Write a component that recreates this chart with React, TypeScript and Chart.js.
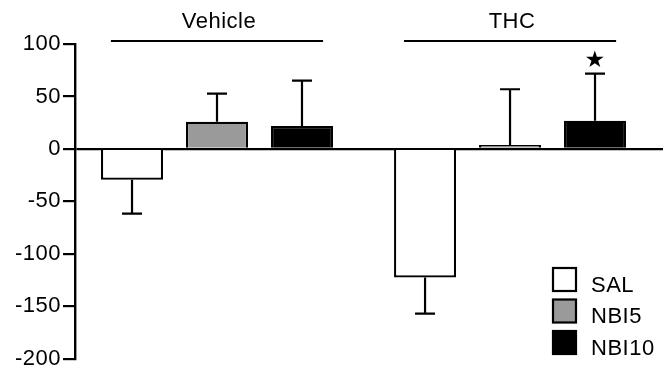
import React, { useEffect, useRef } from "react";
import { Chart, registerables } from "chart.js";

Chart.register(...registerables);

// ---- data ----
const groups = ["Vehicle", "THC"];
const groupPos = [1, 2];
const seriesLabels = ["SAL", "NBI5", "NBI10"];
const salValues = [-29.4, -122.5];
const salErrors = [32.2, 34.5];
const nbi5Values = [25.9, 3.8];
const nbi5Errors = [26.9, 53.1];
const nbi10Values = [21.8, 26.8];
const nbi10Errors = [43.3, 45.0];
const nbi10Marks = ["", "★"];
const yTicks = [-200, -150, -100, -50, 0, 50, 100];

const FONT = '"Liberation Sans", Arial, Helvetica, sans-serif';
const SPACING = "0.5px";

const seriesValues = [salValues, nbi5Values, nbi10Values];
const seriesErrors = [salErrors, nbi5Errors, nbi10Errors];
const seriesMarks = [["", ""], ["", ""], nbi10Marks];
const seriesColors = ["#ffffff", "#9a9a9a", "#000000"];

const spacingPlugin = {
  id: "spacing",
  beforeUpdate(chart: any) {
    chart.ctx.letterSpacing = SPACING;
  },
  beforeDraw(chart: any) {
    chart.ctx.letterSpacing = SPACING;
  },
};

const errorBarPlugin = {
  id: "errorBars",
  afterDatasetsDraw(chart: any) {
    const ctx = chart.ctx;
    const y = chart.scales.y;
    ctx.save();
    ctx.strokeStyle = "#000";
    ctx.fillStyle = "#000";
    ctx.lineWidth = 2.2;
    chart.data.datasets.forEach((ds: any, i: number) => {
      const meta = chart.getDatasetMeta(i);
      meta.data.forEach((el: any, j: number) => {
        const v = seriesValues[i][j];
        const e = seriesErrors[i][j];
        const end = v + (v >= 0 ? e : -e);
        const yEnd = y.getPixelForValue(end);
        ctx.beginPath();
        ctx.moveTo(el.x, el.y);
        ctx.lineTo(el.x, yEnd);
        ctx.moveTo(el.x - 10, yEnd);
        ctx.lineTo(el.x + 10, yEnd);
        ctx.stroke();
        const mark = seriesMarks[i][j];
        if (mark) {
          ctx.font = '23px "DejaVu Sans", sans-serif';
          ctx.textAlign = "center";
          ctx.textBaseline = "middle";
          ctx.fillText(mark, el.x, yEnd - 13);
        }
      });
    });
    ctx.restore();
  },
};

const decorPlugin = {
  id: "decor",
  afterDraw(chart: any) {
    const ctx = chart.ctx;
    const x = chart.scales.x;
    ctx.save();
    ctx.letterSpacing = SPACING;
    // group labels and lines
    ctx.fillStyle = "#000";
    ctx.strokeStyle = "#000";
    ctx.lineWidth = 2.2;
    ctx.font = "22px " + FONT;
    ctx.textAlign = "center";
    ctx.textBaseline = "alphabetic";
    groups.forEach((g, i) => {
      const cx = x.getPixelForValue(groupPos[i]);
      const l = x.getPixelForValue(groupPos[i] - 0.362);
      const r = x.getPixelForValue(groupPos[i] + 0.362);
      ctx.beginPath();
      ctx.moveTo(l, 41);
      ctx.lineTo(r, 41);
      ctx.stroke();
      ctx.fillText(g, cx + 2, 27.5);
    });
    // legend
    const boxL = 553;
    const top0 = 268;
    const pitch = 31.5;
    ctx.textAlign = "left";
    seriesLabels.forEach((lab, i) => {
      const t = top0 + i * pitch;
      ctx.fillStyle = seriesColors[i];
      ctx.fillRect(boxL, t, 23, 23);
      ctx.lineWidth = 2.2;
      ctx.strokeStyle = "#000";
      ctx.strokeRect(boxL, t, 23, 23);
      ctx.fillStyle = "#000";
      ctx.fillText(lab, 591, t + 23.5);
    });
    ctx.restore();
  },
};

export default function App() {
  const ref = useRef<HTMLCanvasElement>(null);
  useEffect(() => {
    if (!ref.current) return;
    const chart = new Chart(ref.current, {
      type: "bar",
      data: {
        datasets: seriesLabels.map((lab, i) => ({
          label: lab,
          data: groupPos.map((p, j) => ({ x: p, y: seriesValues[i][j] })),
          backgroundColor: seriesColors[i],
          borderColor: "#000",
          borderWidth: 2.2,
          borderSkipped: "start",
          categoryPercentage: 0.87,
          barPercentage: 0.73,
        })),
      },
      options: {
        animation: false,
        responsive: false,
        layout: { padding: { top: 44, bottom: 13, left: 0, right: 0 } },
        plugins: {
          legend: { display: false },
          tooltip: { enabled: false },
        },
        scales: {
          x: {
            type: "linear",
            display: false,
            min: 0.5154,
            max: 2.522,
            offset: false,
            afterBuildTicks: (scale: any) => {
              scale.ticks = groupPos.map((v) => ({ value: v }));
            },
          },
          y: {
            min: -200,
            max: 100,
            afterFit: (scale: any) => {
              scale.width = 75;
            },
            afterBuildTicks: (scale: any) => {
              scale.ticks = yTicks.map((v) => ({ value: v }));
            },
            border: { display: true, color: "#000", width: 2.4 },
            grid: {
              color: (c: any) =>
                c.tick && c.tick.value === 0 ? "#000" : "rgba(0,0,0,0)",
              lineWidth: 2.2,
              tickColor: "#000",
              tickWidth: 2.2,
              tickLength: 12,
              drawTicks: true,
            },
            ticks: {
              color: "#000",
              padding: 2,
              font: { family: FONT, size: 22 },
            },
          },
        },
      },
      plugins: [spacingPlugin, errorBarPlugin, decorPlugin],
    } as any);
    return () => chart.destroy();
  }, []);
  return (
    <div style={{ position: "absolute", left: 0, top: 0, width: 663, height: 374 }}>
      <canvas ref={ref} width={663} height={374} />
    </div>
  );
}
